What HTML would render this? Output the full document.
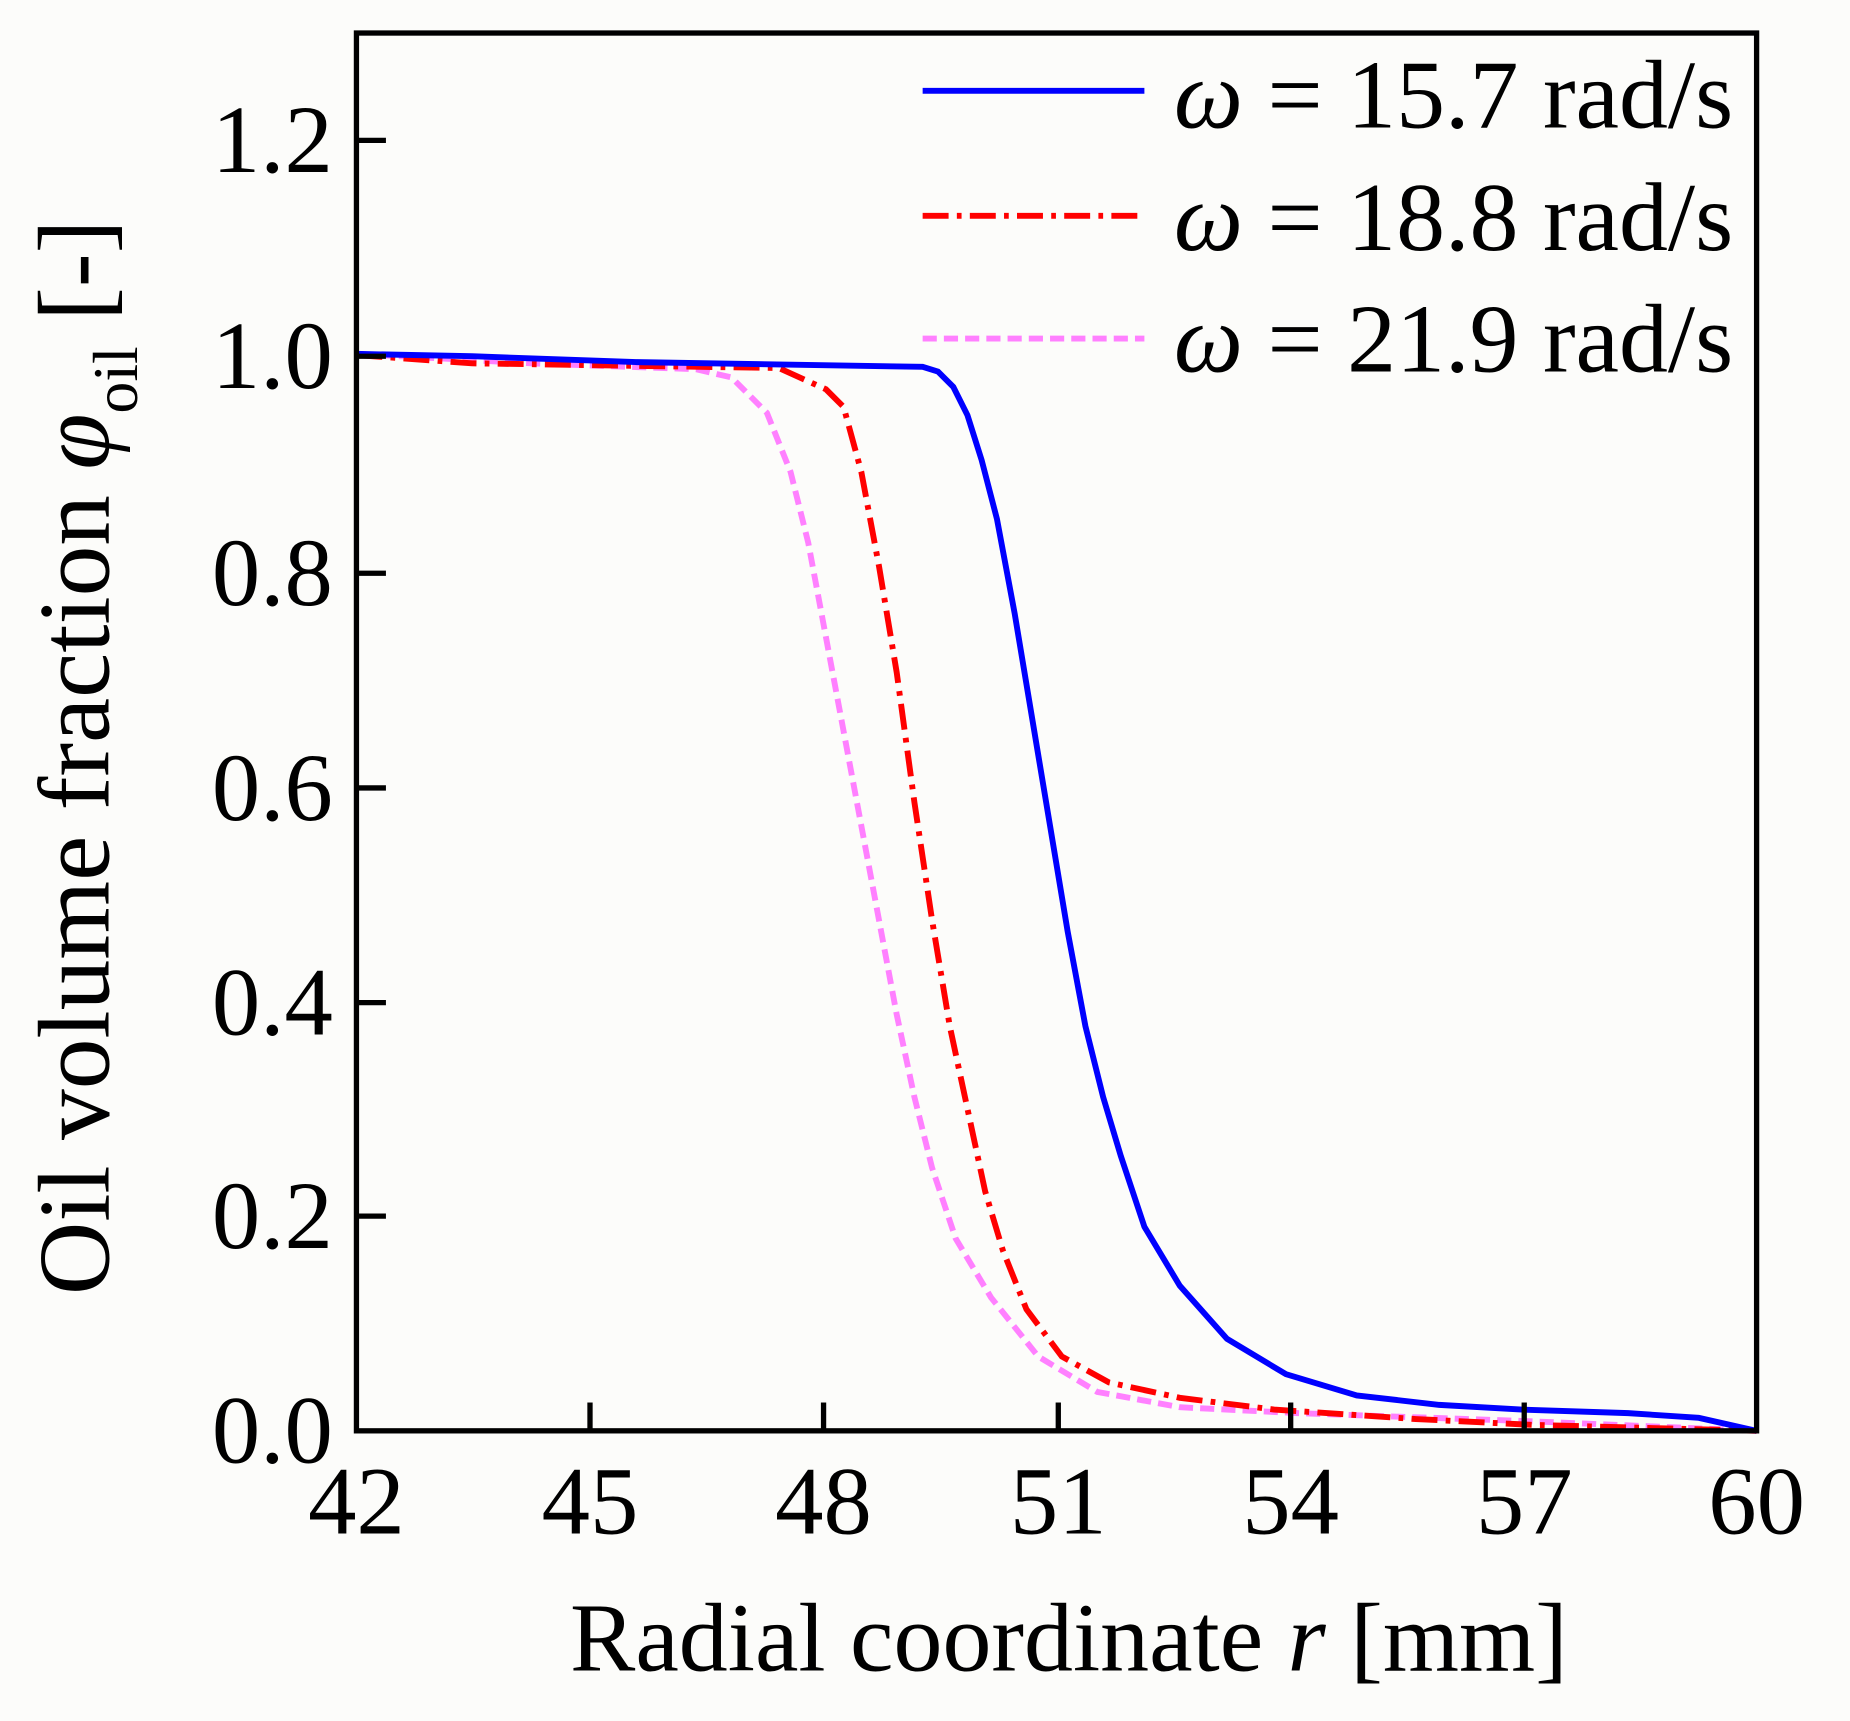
<!DOCTYPE html>
<html><head><meta charset="utf-8"><style>
html,body{margin:0;padding:0;background:#fcfcfa;}
svg{display:block;}
text{font-family:"Liberation Serif",serif;fill:#000;}
</style></head><body>
<svg width="1850" height="1721" viewBox="0 0 1568 1459" xmlns="http://www.w3.org/2000/svg">
<rect x="0" y="0" width="1568" height="1459" fill="#fcfcfa"/>
<polyline fill="none" stroke="#ff80ff" stroke-width="5" stroke-dasharray="12,6" points="302,300 450,308 590,313 620,320 650,350 670,400 685,460 700,540 715,620 730,700 745,780 760,860 775,930 790,990 810,1050 840,1100 880,1150 930,1180 1000,1193 1100,1198 1300,1205 1489,1213"/>
<polyline fill="none" stroke="#ff0000" stroke-width="5" stroke-dasharray="22,7,4,7" points="302,301 400,308 660,312 700,330 715,345 730,400 745,480 760,570 775,680 790,780 805,870 820,940 835,1010 850,1060 870,1110 900,1150 940,1172 1000,1185 1080,1195 1200,1203 1300,1208 1489,1213"/>
<polyline fill="none" stroke="#0000ff" stroke-width="5" points="302,300 400,302 540,307 782,311 795,315 808,328 820,352 832,390 845,440 860,520 875,610 890,700 905,790 920,870 935,930 950,980 970,1040 1000,1090 1040,1135 1090,1165 1150,1183 1220,1191 1290,1195 1380,1198 1440,1202 1489,1213"/>
<rect x="302" y="28" width="1187" height="1185" fill="none" stroke="#000" stroke-width="4.5"/>
<g stroke="#000" stroke-width="4.5">
<line x1="302" y1="1031" x2="327" y2="1031"/><line x1="302" y1="850" x2="327" y2="850"/>
<line x1="302" y1="668" x2="327" y2="668"/><line x1="302" y1="486" x2="327" y2="486"/>
<line x1="302" y1="302" x2="327" y2="302"/><line x1="302" y1="119" x2="327" y2="119"/>
<line x1="500" y1="1213" x2="500" y2="1189"/><line x1="698" y1="1213" x2="698" y2="1189"/>
<line x1="897" y1="1213" x2="897" y2="1189"/><line x1="1094" y1="1213" x2="1094" y2="1189"/>
<line x1="1292" y1="1213" x2="1292" y2="1189"/>
</g>
<g font-size="82" text-anchor="end">
<text x="282" y="1240">0.0</text><text x="282" y="1058">0.2</text><text x="282" y="877">0.4</text>
<text x="282" y="695">0.6</text><text x="282" y="513">0.8</text><text x="282" y="329">1.0</text><text x="282" y="146">1.2</text>
</g>
<g font-size="82" text-anchor="middle">
<text x="302" y="1300">42</text><text x="500" y="1300">45</text><text x="698" y="1300">48</text>
<text x="897" y="1300">51</text><text x="1094" y="1300">54</text><text x="1292" y="1300">57</text><text x="1489" y="1300">60</text>
</g>
<text x="906" y="1416" font-size="83" text-anchor="middle">Radial coordinate <tspan font-style="italic">r</tspan> [mm]</text>
<text transform="translate(92,642) rotate(-90)" font-size="86" text-anchor="middle">Oil volume fraction <tspan font-style="italic">φ</tspan><tspan font-size="54" dy="24">oil</tspan><tspan dy="-24"> [-]</tspan></text>
<line x1="782" y1="77" x2="970" y2="77" stroke="#0000ff" stroke-width="5"/>
<line x1="782" y1="183" x2="970" y2="183" stroke="#ff0000" stroke-width="5" stroke-dasharray="22,7,4,7"/>
<line x1="782" y1="287" x2="970" y2="287" stroke="#ff80ff" stroke-width="5" stroke-dasharray="12,6"/>
<g font-size="83">
<text x="995" y="108"><tspan font-style="italic">ω</tspan> = 15.7 rad/s</text>
<text x="995" y="212"><tspan font-style="italic">ω</tspan> = 18.8 rad/s</text>
<text x="995" y="315"><tspan font-style="italic">ω</tspan> = 21.9 rad/s</text>
</g>
</svg>
</body></html>
